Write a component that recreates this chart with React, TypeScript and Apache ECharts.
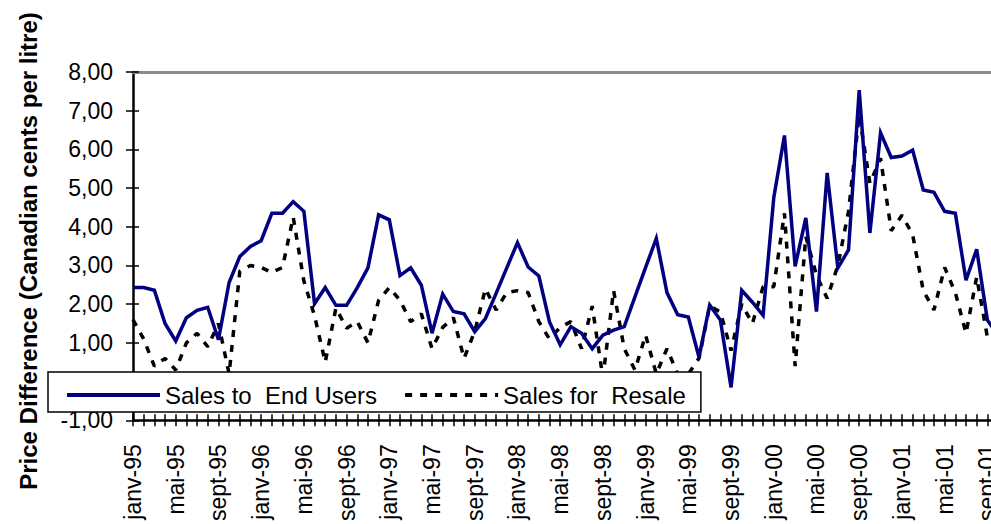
import React, { useEffect, useRef } from "react";
import * as echarts from "echarts";

const monthNames = ["janv", "févr", "mars", "avr", "mai", "juin", "juil", "août", "sept", "oct", "nov", "déc"];
const yearLabels = ["95", "96", "97", "98", "99", "00", "01"];
const categories: string[] = [];
yearLabels.forEach((y) => monthNames.forEach((m) => categories.push(`${m}-${y}`)));

const seriesNames = ["Sales to  End Users", "Sales for  Resale"];

const salesToEndUsers = [
  2.43, 2.43, 2.36, 1.5, 1.05, 1.65, 1.84, 1.92, 1.08, 2.56, 3.23, 3.49,
  3.64, 4.35, 4.35, 4.65, 4.4, 2.01, 2.43, 1.97, 1.97, 2.43, 2.94, 4.31,
  4.18, 2.74, 2.94, 2.49, 1.25, 2.26, 1.81, 1.75, 1.29, 1.63, 2.28, 2.94,
  3.59, 2.96, 2.73, 1.54, 0.95, 1.42, 1.25, 0.85, 1.2, 1.33, 1.42, 2.19,
  2.95, 3.7, 2.3, 1.73, 1.67, 0.63, 1.98, 1.59, -0.15, 2.36, 2.05, 1.71,
  4.75, 6.36, 2.98, 4.23, 1.81, 5.39, 2.94, 3.4, 7.53, 3.84, 6.43, 5.79,
  5.83, 5.98, 4.95, 4.89, 4.4, 4.35, 2.62, 3.42, 1.59, 1.2,
];

const salesForResale = [
  1.6, 1.1, 0.4, 0.6, 0.3, 1.0, 1.25, 0.9, 1.5, 0.2, 2.85, 3.0,
  2.95, 2.82, 2.95, 4.25, 2.6, 1.7, 0.5, 1.9, 1.38, 1.55, 1.0, 2.1,
  2.43, 2.1, 1.55, 1.75, 0.85, 1.4, 1.65, 0.6, 1.3, 2.4, 1.85, 2.3,
  2.35, 2.3, 1.55, 1.1, 1.4, 1.55, 0.85, 1.95, 0.1, 2.35, 0.85, 0.3,
  1.2, 0.2, 0.85, 0.2, 0.2, 0.6, 1.95, 1.8, 0.8, 2.0, 1.5, 2.45,
  2.45, 4.35, 0.4, 3.75, 2.75, 2.15, 3.0, 4.4, 6.9, 5.13, 5.77, 3.9,
  4.3, 3.8, 2.35, 1.85, 2.95, 2.3, 1.25, 2.7, 1.15, 1.0,
];

const yMin = -1;
const yMax = 8;
const yStep = 1;
const yTitle = "Price Difference (Canadian cents per litre)";

const FONT = '"Liberation Sans", Arial, sans-serif';

export default function App() {
  const ref = useRef<HTMLDivElement>(null);

  useEffect(() => {
    if (!ref.current) return;
    const chart = echarts.init(ref.current, undefined, { renderer: "svg" });
    const fmt = (v: number) => v.toFixed(2).replace(".", ",");
    chart.setOption({
      animation: false,
      backgroundColor: "#ffffff",
      textStyle: { fontFamily: FONT },
      grid: { left: 133, top: 72, width: 886.4, height: 355, containLabel: false },
      legend: {
        left: 48,
        top: 372,
        orient: "horizontal",
        data: seriesNames,
        itemWidth: 93,
        itemHeight: 14,
        itemGap: 26,
        padding: [11, 15, 5, 17],
        backgroundColor: "#ffffff",
        borderColor: "#000000",
        borderWidth: 1.5,
        itemStyle: { opacity: 0 },
        lineStyle: { width: 4 },
        textStyle: { fontSize: 24, lineHeight: 22, color: "#000", fontFamily: FONT },
        z: 10,
      },
      graphic: [
        {
          type: "text",
          x: 28,
          y: 251,
          rotation: Math.PI / 2,
          z: 20,
          style: {
            text: yTitle,
            fontSize: 24,
            fontWeight: "bold",
            fontFamily: FONT,
            fill: "#000",
            align: "center",
            verticalAlign: "middle",
          },
        },
      ],
      xAxis: [
        {
          type: "category",
          data: categories,
          boundaryGap: false,
          position: "bottom",
          axisLine: { onZero: false, lineStyle: { color: "#000", width: 2.5 } },
          axisTick: { show: true, interval: 0, inside: false, length: 6, lineStyle: { color: "#000", width: 1.5 } },
          axisLabel: {
            interval: 3,
            rotate: 90,
            margin: 24,
            fontSize: 23,
            color: "#000",
            fontFamily: FONT,
          },
          splitLine: { show: false },
        },
        {
          type: "category",
          data: categories,
          boundaryGap: false,
          position: "bottom",
          axisLine: { show: false, onZero: false },
          axisTick: { show: true, interval: 0, inside: true, length: 6, lineStyle: { color: "#000", width: 1.5 } },
          axisLabel: { show: false },
          splitLine: { show: false },
        },
        {
          type: "category",
          data: categories,
          boundaryGap: false,
          position: "top",
          axisLine: { show: true, onZero: false, lineStyle: { color: "#8c8c8c", width: 3 } },
          axisTick: { show: false },
          axisLabel: { show: false },
          splitLine: { show: false },
        },
      ],
      yAxis: [
        {
          type: "value",
          min: yMin,
          max: yMax,
          interval: yStep,
          position: "left",
          axisLine: { show: true, onZero: false, lineStyle: { color: "#000", width: 2.5 } },
          axisTick: { show: true, inside: false, length: 7, lineStyle: { color: "#000", width: 1.5 } },
          axisLabel: { formatter: fmt, fontSize: 23, color: "#000", margin: 20, fontFamily: FONT },
          splitLine: { show: false },
        },
        {
          type: "value",
          min: yMin,
          max: yMax,
          interval: yStep,
          position: "left",
          axisLine: { show: false, onZero: false },
          axisTick: { show: true, inside: true, length: 6, lineStyle: { color: "#000", width: 1.5 } },
          axisLabel: { show: false },
          splitLine: { show: false },
        },
      ],
      series: [
        {
          name: seriesNames[0],
          type: "line",
          data: salesToEndUsers,
          xAxisIndex: 0,
          yAxisIndex: 0,
          symbol: "none",
          lineStyle: { color: "#000080", width: 3.5, join: "miter" },
          itemStyle: { color: "#000080" },
          z: 3,
        },
        {
          name: seriesNames[1],
          type: "line",
          data: salesForResale,
          xAxisIndex: 0,
          yAxisIndex: 0,
          symbol: "none",
          lineStyle: { color: "#000000", width: 3.5, type: [7, 8] },
          itemStyle: { color: "#000000" },
          z: 2,
        },
      ],
    });
    return () => chart.dispose();
  }, []);

  return (
    <div style={{ position: "fixed", left: 0, top: 0, width: 991, height: 524, overflow: "hidden", background: "#fff" }}>
      <div ref={ref} style={{ width: 1040, height: 524 }} />
    </div>
  );
}
